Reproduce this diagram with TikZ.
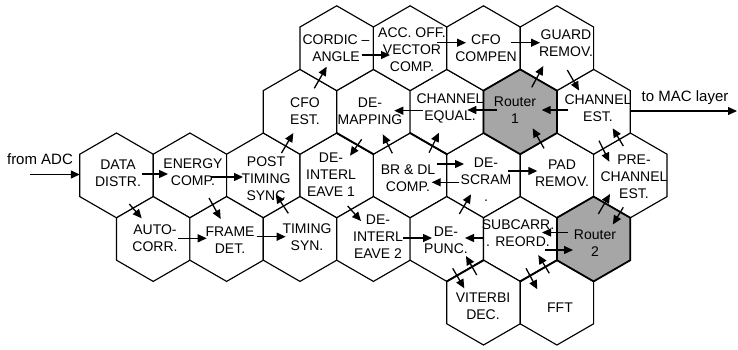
\documentclass[tikz,border=0pt]{standalone}
\usepackage{fontspec}
\setmainfont{Liberation Sans}
\usetikzlibrary{arrows.meta}
\definecolor{routergray}{RGB}{166,166,166}
\newcommand{\drawhex}[2]{\draw[#1] ([shift={(0,-42.4)}]#2) -- ([shift={(36.7,-21.2)}]#2) -- ([shift={(36.7,21.2)}]#2) -- ([shift={(0,42.4)}]#2) -- ([shift={(-36.7,21.2)}]#2) -- ([shift={(-36.7,-21.2)}]#2) -- cycle;}
\begin{document}
\begin{tikzpicture}[x=1pt,y=-1pt,
  hexcell/.style={draw=black, line width=1.15pt, fill=white, line join=miter},
  routercell/.style={draw=black, line width=1.8pt, fill=routergray, line join=miter},
  thickedge/.style={draw=black, line width=1.9pt, line cap=round},
  lbl/.style={align=center, font=\fontsize{14}{17}\selectfont, inner sep=0pt},
  outerlbl/.style={font=\fontsize{15}{18}\selectfont, inner sep=0pt},
  arr/.style={line width=1.3pt, -{Triangle[length=9pt,width=8pt]}},
]
\useasboundingbox (0,0) rectangle (738,349);
% hex centres
\coordinate (dd) at (116.5,175.4);
\coordinate (en) at (189.9,175.4);
\coordinate (pts) at (263.3,175.4);
\coordinate (di1) at (336.7,175.4);
\coordinate (br) at (410.1,175.4);
\coordinate (ds) at (483.5,175.4);
\coordinate (pad) at (556.9,175.4);
\coordinate (pce) at (630.3,175.4);
\coordinate (ac) at (153.2,239);
\coordinate (fd) at (226.6,239);
\coordinate (ts) at (300,239);
\coordinate (di2) at (373.4,239);
\coordinate (dp) at (446.8,239);
\coordinate (sc) at (520.2,239);
\coordinate (r2) at (593.6,239);
\coordinate (cfo) at (300,111.8);
\coordinate (dm) at (373.4,111.8);
\coordinate (ceq) at (446.8,111.8);
\coordinate (r1) at (520.2,111.8);
\coordinate (ce) at (593.6,111.8);
\coordinate (cor) at (336.7,48.2);
\coordinate (acc) at (410.1,48.2);
\coordinate (cfc) at (483.5,48.2);
\coordinate (gr) at (556.9,48.2);
\coordinate (vit) at (483.5,302.6);
\coordinate (fft) at (556.9,302.6);
\coordinate (adc) at (30,174.5);
\coordinate (mac) at (737,111);
% hexagons
\foreach \c in {dd,en,pts,di1,br,ds,pad,pce,ac,fd,ts,di2,dp,sc,cfo,dm,ceq,ce,cor,acc,cfc,gr,vit,fft}
  {\drawhex{hexcell}{\c}}
% heavier shared edges
\draw[thickedge] ([shift={(0,-42.4)}]di1) -- ([shift={(36.7,-21.2)}]di1);
\draw[thickedge] ([shift={(0,-42.4)}]br) -- ([shift={(36.7,-21.2)}]br);
\draw[thickedge] ([shift={(0,-42.4)}]vit) -- ([shift={(-36.7,-21.2)}]vit);
\draw[thickedge] ([shift={(0,-42.4)}]fft) -- ([shift={(-36.7,-21.2)}]fft);
\drawhex{routercell}{r1}
\drawhex{routercell}{r2}
% labels
\node[lbl] (ddT) at (118,173.5) {DATA\\DISTR.};
\node[lbl] (enT) at (193,172) {ENERGY\\COMP.};
\node[lbl] (ptsT) at (266,178.5) {POST\\TIMING\\SYNC};
\node[lbl] (di1T) at (331,175) {DE-\\INTERL\\EAVE 1};
\node[lbl] (brT) at (408,178.5) {BR \& DL\\COMP.};
\node[lbl] (dsT) at (486,180) {DE-\\SCRAM\\.};
\node[lbl] (padT) at (562,173.5) {PAD\\REMOV.};
\node[lbl] (pceT) at (634,177) {PRE-\\CHANNEL\\EST.};
\node[lbl] (acT) at (155,238) {AUTO-\\CORR.};
\node[lbl] (fdT) at (230,240) {FRAME\\DET.};
\node[lbl] (tsT) at (307,237.5) {TIMING\\SYN.};
\node[lbl] (di2T) at (378,236.5) {DE-\\INTERL\\EAVE 2};
\node[lbl] (dpT) at (446,240) {DE-\\PUNC.};
\node[lbl] (scT) at (518,233.5) {SUBCARR.\\. REORD.};
\node[lbl] (r2T) at (595,243.5) {Router\\2};
\node[lbl] (cfoT) at (305,111.5) {CFO\\EST.};
\node[lbl] (dmT) at (370,111.5) {DE-\\MAPPING};
\node[lbl] (ceqT) at (450,108.5) {CHANNEL\\EQUAL.};
\node[lbl] (r1T) at (515,110) {Router\\1};
\node[lbl] (ceT) at (598,108.5) {CHANNEL\\EST.};
\node[lbl] (corT) at (336,48) {CORDIC --\\ANGLE};
\node[lbl] (accT) at (412,49.5) {ACC. OFF.\\VECTOR\\COMP.};
\node[lbl] (cfcT) at (486,48.5) {CFO\\COMPEN};
\node[lbl] (grT) at (566,43.5) {GUARD\\REMOV.};
\node[lbl] (vitT) at (483,306.5) {VITERBI\\DEC.};
\node[lbl] (fftT) at (560,308) {FFT};
\node[outerlbl] (adcT) at (40,159) {from ADC};
\node[outerlbl] (macT) at (685,98) {to MAC layer};
% arrows
\draw[arr] (adc) -- ([shift={(-36.7,-0.9)}]dd);
\draw[arr] ([shift={(25.5,-1.4)}]dd) -- ([shift={(-21.9,-1.4)}]en);
\draw[arr] ([shift={(21.1,1.6)}]en) -- ([shift={(-20.3,1.6)}]pts);
\draw[arr] ([shift={(12.8,28.6)}]dd) -- ([shift={(-11.5,-20.7)}]ac);
\draw[arr] ([shift={(19.1,22.6)}]en) -- ([shift={(-5.9,-20)}]fd);
\draw[arr] ([shift={(25.1,-0.7)}]ac) -- ([shift={(-19.9,-0.7)}]fd);
\draw[arr] ([shift={(30.1,-2.3)}]fd) -- ([shift={(-14.3,-2.3)}]ts);
\draw[arr] ([shift={(-11.7,-25.7)}]ts) -- ([shift={(12.4,18.9)}]pts);
\draw[arr] ([shift={(18.2,-22.4)}]pts) -- ([shift={(-6.7,21.2)}]cfo);
\draw[arr] ([shift={(14.3,-23.5)}]cfo) -- ([shift={(-10,18.5)}]cor);
\draw[arr] ([shift={(25,6.8)}]cor) -- ([shift={(-20.1,6.8)}]acc);
\draw[arr] ([shift={(27.2,-5.5)}]acc) -- ([shift={(-17.5,-5.5)}]cfc);
\draw[arr] ([shift={(27.2,-5.5)}]cfc) -- ([shift={(-16.9,-5.5)}]gr);
\draw[arr] ([shift={(10.4,21.8)}]gr) -- ([shift={(-14.6,-21.3)}]ce);
\draw[arr] ([shift={(-25.3,-1.8)}]ce) -- ([shift={(21.5,-1.8)}]r1);
\draw[arr] ([shift={(11.5,-24.5)}]r1) -- ([shift={(-13.6,17.8)}]gr);
\draw[arr] ([shift={(-23.5,-1.8)}]r1) -- ([shift={(20.5,-1.8)}]ceq);
\draw[arr] ([shift={(-24.1,-1.1)}]ceq) -- ([shift={(20.9,-1.1)}]dm);
\draw[arr] ([shift={(-11.7,27.5)}]dm) -- ([shift={(13.3,-19.7)}]di1);
\draw[arr] ([shift={(-17.8,-22.1)}]br) -- ([shift={(9.3,22.5)}]dm);
\draw[arr] ([shift={(18.9,-22.7)}]br) -- ([shift={(-7.8,20.9)}]ceq);
\draw[arr] ([shift={(26.6,-11.4)}]br) -- ([shift={(-19.5,-11.4)}]ds);
\draw[arr] ([shift={(-24.2,6.9)}]ds) -- ([shift={(21.6,6.9)}]br);
\draw[arr] ([shift={(24.8,-4.4)}]ds) -- ([shift={(-19.6,-4.4)}]pad);
\draw[arr] ([shift={(-12.9,-27.1)}]pad) -- ([shift={(12.5,16.5)}]r1);
\draw[arr] ([shift={(5.4,28.9)}]ce) -- ([shift={(-21,-13.7)}]pce);
\draw[arr] ([shift={(-7,-29.4)}]pce) -- ([shift={(19.1,16.5)}]ce);
\draw[arr] ([shift={(4.7,-25)}]r2) -- ([shift={(-20.3,18.6)}]pce);
\draw[arr] ([shift={(-7,31.9)}]pce) -- ([shift={(19.2,-14.5)}]r2);
\draw[arr] ([shift={(-25.6,-6.5)}]r2) -- ([shift={(21.8,-6.5)}]sc);
\draw[arr] ([shift={(24.8,11)}]sc) -- ([shift={(-20.6,11)}]r2);
\draw[arr] ([shift={(-36.9,-1)}]sc) -- ([shift={(18.2,-1)}]dp);
\draw[arr] ([shift={(29.9,-1)}]di2) -- ([shift={(-14.8,-1)}]dp);
\draw[arr] ([shift={(11,30.6)}]di1) -- ([shift={(-12.4,-18)}]di2);
\draw[arr] ([shift={(12.5,-25)}]dp) -- ([shift={(-12.5,18.9)}]ds);
\draw[arr] ([shift={(-6.8,-27.6)}]vit) -- ([shift={(19.2,17)}]dp);
\draw[arr] ([shift={(5.9,29.3)}]dp) -- ([shift={(-19.2,-14.3)}]vit);
\draw[arr] ([shift={(-7.6,-29.3)}]fft) -- ([shift={(18.1,16)}]sc);
\draw[arr] ([shift={(5.8,29.3)}]sc) -- ([shift={(-19.6,-13.3)}]fft);
\draw[arr] ([shift={(36.7,-0.8)}]ce) -- (mac);
\end{tikzpicture}
\end{document}
